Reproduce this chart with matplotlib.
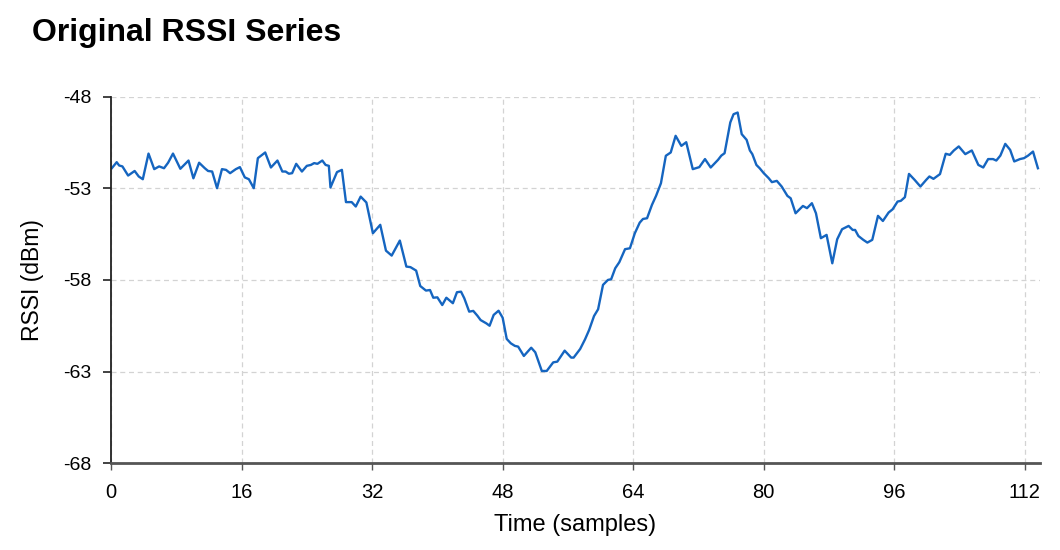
import numpy as np
import matplotlib
matplotlib.use("Agg")
import matplotlib.pyplot as plt

plt.rcParams['font.family'] = ['Liberation Sans', 'DejaVu Sans']
plt.rcParams['axes.unicode_minus'] = False

# time (samples) and RSSI (dBm)
time = [0.1, 0.7, 1.0, 1.4, 2.1, 2.9, 3.4, 3.9, 4.6, 5.3, 5.9, 6.5, 7.0, 7.6,
        8.5, 9.5, 10.1, 10.8, 11.5, 11.9, 12.4, 13.0, 13.6, 14.1, 14.6, 15.3,
        15.8, 16.4, 16.9, 17.5, 18.0, 18.9,
        19.6, 20.4, 21.0, 21.4, 21.8, 22.2, 22.7, 23.4, 24.0, 24.5, 24.9, 25.3,
        25.9, 26.3, 26.7, 26.9, 27.7, 28.3, 28.8, 29.5, 30.0, 30.6, 31.3, 32.1,
        33.0, 33.7, 34.4, 35.4, 36.2, 36.7, 37.4, 37.9, 38.6, 39.1,
        39.5, 40.0, 40.6, 41.1, 41.9, 42.4, 42.9, 43.3, 43.9, 44.4, 44.9, 45.3,
        46.0, 46.4, 46.9, 47.5, 48.0, 48.5, 49.0, 49.5, 49.9, 50.6, 51.5, 52.0,
        52.8, 53.4, 54.2, 54.7, 55.6, 56.4, 56.7, 57.5,
        58.1, 58.6, 59.2, 59.7, 60.3, 60.9, 61.3, 61.8, 62.3, 63.0, 63.6, 64.2,
        64.8, 65.2, 65.7, 66.3, 66.8, 67.4, 68.0, 68.6, 69.2, 69.9, 70.5, 71.3,
        72.1, 72.8, 73.5, 74.4, 74.8, 75.2, 75.9, 76.3, 76.8, 77.3, 77.9, 78.3,
        78.6, 79.1, 79.5, 80.0, 80.6, 81.0, 81.6, 82.2, 82.9, 83.3, 83.9, 84.4,
        84.8, 85.3, 85.9, 86.4, 87.0, 87.7, 88.4, 89.0, 89.6, 90.4, 90.9, 91.2,
        91.6, 92.2, 92.7, 93.3, 94.0, 94.6, 95.3, 95.8, 96.4, 96.8, 97.3, 97.8,
        98.5, 99.2, 99.9, 100.3, 100.8, 101.6, 102.3, 102.8, 103.3, 103.9,
        104.7, 105.5, 106.3, 106.9, 107.5, 108.1, 108.5, 109.0, 109.6, 110.2,
        110.7, 111.4, 111.9, 112.4, 113.0, 113.6]
rssi = [-51.9, -51.57, -51.75, -51.8, -52.3, -52.05, -52.35, -52.5, -51.1, -51.95,
        -51.8, -51.9, -51.6, -51.1, -51.93, -51.48, -52.45, -51.6, -51.9, -52.05,
        -52.08, -52.99, -51.95, -51.99, -52.17, -51.95, -51.84, -52.4, -52.5,
        -52.99, -51.35, -51.04,
        -51.86, -51.48, -52.08, -52.08, -52.2, -52.17, -51.66, -52.08, -51.77,
        -51.72, -51.62, -51.66, -51.48, -51.72, -51.77, -52.95, -52.11, -51.99,
        -53.75, -53.75, -53.99, -53.45, -53.77, -55.45, -54.99, -56.4, -56.67,
        -55.85, -57.27, -57.3, -57.49, -58.33, -58.58, -58.55,
        -58.97, -58.95, -59.37, -58.97, -59.27, -58.67, -58.64, -59.0, -59.73,
        -59.69, -59.95, -60.19, -60.37, -60.5, -59.91, -59.68, -60.06, -61.22,
        -61.46, -61.6, -61.64, -62.15, -61.7, -61.95, -62.97, -62.97, -62.5,
        -62.46, -61.86, -62.24, -62.24, -61.77,
        -61.24, -60.73, -59.97, -59.6, -58.27, -58.0, -57.96, -57.36, -57.03,
        -56.32, -56.27, -55.45, -54.87, -54.67, -54.63, -53.9, -53.41, -52.72,
        -51.22, -51.04, -50.13, -50.68, -50.48, -51.95, -51.84, -51.4, -51.86,
        -51.44, -51.21, -51.08, -49.4, -48.95, -48.86, -50.04, -50.35, -50.93,
        -51.13, -51.72, -51.9, -52.17, -52.44, -52.66, -52.59, -52.9, -53.41,
        -53.54, -54.36, -54.14, -53.96, -54.08, -53.81, -54.36, -55.72, -55.54,
        -57.09, -55.78, -55.23, -55.05, -55.27, -55.27, -55.6, -55.81, -55.96,
        -55.81, -54.5, -54.78, -54.32, -54.14, -53.72, -53.68, -53.48, -52.21,
        -52.54, -52.9, -52.54, -52.35, -52.48, -52.22, -51.11, -51.17, -50.93,
        -50.71, -51.13, -50.93, -51.72, -51.86, -51.4, -51.4, -51.48, -51.21,
        -50.57, -50.9, -51.53, -51.4, -51.35, -51.21, -50.99, -51.9]

x_ticks = [0, 16, 32, 48, 64, 80, 96, 112]
y_ticks = [-68, -63, -58, -53, -48]

fig = plt.figure(figsize=(10.6, 5.5), dpi=100)
ax = fig.add_axes([0.1047, 0.158, 0.876, 0.666])

ax.plot(time, rssi, color='#1565c0', linewidth=1.7)

ax.set_xlim(0, 113.8)
ax.set_ylim(-68, -48)
ax.set_xticks(x_ticks)
ax.set_yticks(y_ticks)
ax.grid(True, linestyle=(0, (4, 3)), color='#d3d3d3', linewidth=0.9)
ax.set_axisbelow(True)

for side in ('top', 'right'):
    ax.spines[side].set_visible(False)
ax.spines['left'].set_color('#222222')
ax.spines['left'].set_linewidth(1.3)
ax.spines['bottom'].set_color('#555555')
ax.spines['bottom'].set_linewidth(2.0)
ax.tick_params(axis='y', length=6, width=1.2, color='#222222', labelsize=14, pad=8)
ax.tick_params(axis='x', length=5, width=1.0, color='#555555', labelsize=14.5, pad=9)

ax.set_xlabel("Time (samples)", fontsize=17, labelpad=9)
ax.set_ylabel("RSSI (dBm)", fontsize=16.5, labelpad=14)
fig.text(0.03, 0.94, "Original RSSI Series", fontsize=23, fontweight='bold',
         ha='left', va='center')

plt.savefig("out.png", dpi=100)
